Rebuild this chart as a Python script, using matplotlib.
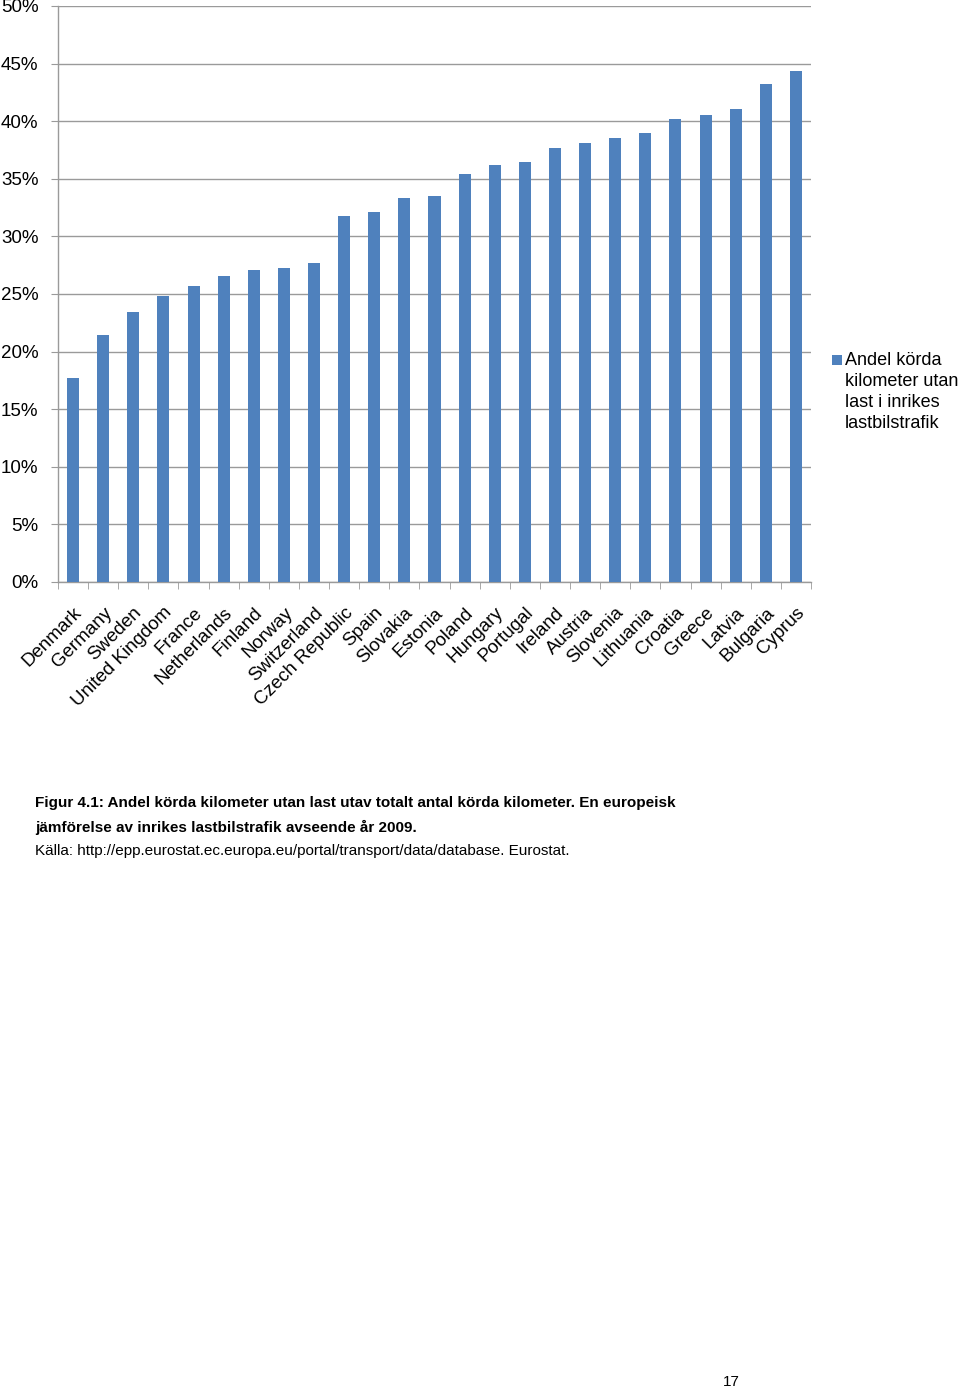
import matplotlib
matplotlib.use("Agg")
import matplotlib.pyplot as plt
import numpy as np
from matplotlib.ticker import FixedLocator, PercentFormatter
from matplotlib.patches import Rectangle

plt.rcParams['font.family'] = ['Liberation Sans', 'DejaVu Sans']

countries = ["Denmark", "Germany", "Sweden", "United Kingdom", "France", "Netherlands",
             "Finland", "Norway", "Switzerland", "Czech Republic", "Spain", "Slovakia",
             "Estonia", "Poland", "Hungary", "Portugal", "Ireland", "Austria", "Slovenia",
             "Lithuania", "Croatia", "Greece", "Latvia", "Bulgaria", "Cyprus"]
values = [17.7, 21.4, 23.4, 24.8, 25.7, 26.6, 27.1, 27.3, 27.7, 31.8, 32.1, 33.3,
          33.5, 35.4, 36.2, 36.5, 37.7, 38.1, 38.5, 39.0, 40.2, 40.5, 41.1, 43.2, 44.4]
series_label = "Andel körda\nkilometer utan\nlast i inrikes\nlastbilstrafik"
yticks = [0, 5, 10, 15, 20, 25, 30, 35, 40, 45, 50]

W, H = 960, 1391
bar_color = "#4F81BD"
fig = plt.figure(figsize=(W / 100, H / 100), dpi=100)
ax = fig.add_axes([58 / W, 1 - 582 / H, (811 - 58) / W, (582 - 6) / H])

x = np.arange(len(countries))
ax.bar(x, values, width=0.4, color=bar_color, zorder=3)

grid_c = "#9A9A9A"
ax.set_ylim(0, 50)
ax.set_xlim(-0.5, len(countries) - 0.5)
ax.set_yticks(yticks)
ax.yaxis.set_major_formatter(PercentFormatter(decimals=0))
ax.yaxis.grid(True, color=grid_c, linewidth=1.0, zorder=0)
ax.tick_params(axis='y', length=5, color=grid_c, labelsize=13.5, pad=9, direction='out')

ax.set_xticks(x)
ax.set_xticklabels(countries, rotation=45, ha='right', rotation_mode='anchor', fontsize=13.5)
ax.xaxis.set_minor_locator(FixedLocator(np.arange(-0.5, len(countries), 1.0)))
ax.tick_params(axis='x', which='major', length=0, pad=16)
ax.tick_params(axis='x', which='minor', length=5, color=grid_c, direction='out')

for s in ['top', 'right']:
    ax.spines[s].set_visible(False)
for s in ['left', 'bottom']:
    ax.spines[s].set_color(grid_c)
    ax.spines[s].set_linewidth(1.0)

# legend (manual)
fig.patches.append(Rectangle((832 / W, 1 - 365 / H), 10 / W, 10 / H,
                             transform=fig.transFigure, facecolor=bar_color,
                             edgecolor='none'))
fig.text(845 / W, 1 - 352 / H, series_label, fontsize=13, va='top', ha='left',
         linespacing=1.3)

fig.text(35 / W, 1 - 803 / H,
         "Figur 4.1: Andel körda kilometer utan last utav totalt antal körda kilometer. En europeisk",
         fontsize=11, fontweight='bold', va='center', ha='left')
fig.text(35 / W, 1 - 827 / H,
         "jämförelse av inrikes lastbilstrafik avseende år 2009.",
         fontsize=11, fontweight='bold', va='center', ha='left')
fig.text(35 / W, 1 - 851 / H,
         "Källa: http://epp.eurostat.ec.europa.eu/portal/transport/data/database. Eurostat.",
         fontsize=11, va='center', ha='left')
fig.text(731 / W, 1 - 1382 / H, "17", fontsize=11, va='center', ha='center')

fig.savefig("out.png", dpi=100, facecolor='white')
